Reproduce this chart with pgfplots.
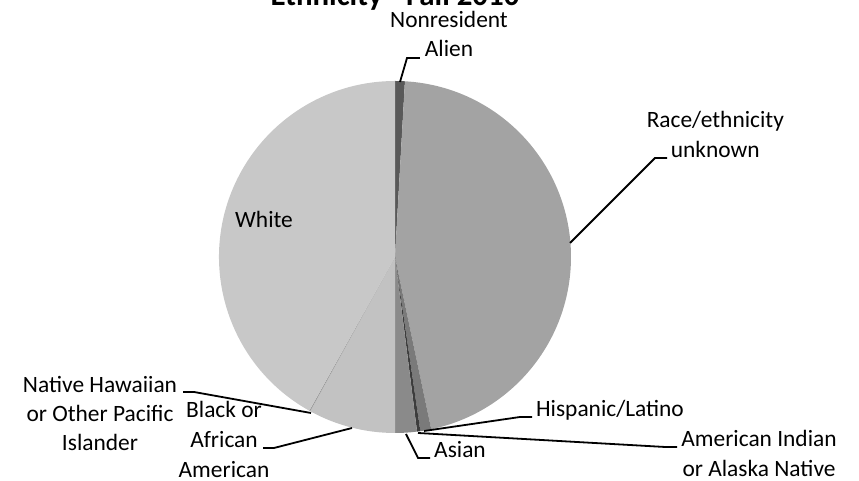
\documentclass[border=0pt]{standalone}
\usepackage{fontspec}
\setmainfont{Carlito}
\usepackage{pgfplots}
\usepackage{pgfplotstable}
\pgfplotsset{compat=1.18}
\definecolor{c1}{HTML}{595959}
\definecolor{c2}{HTML}{A3A3A3}
\definecolor{c3}{HTML}{7A7A7A}
\definecolor{c4}{HTML}{3C3C3C}
\definecolor{c5}{HTML}{8A8A8A}
\definecolor{c6}{HTML}{C2C2C2}
\definecolor{c7}{HTML}{9A9A9A}
\definecolor{c8}{HTML}{C8C8C8}
\pgfplotstableread{
share color
0.9  c1
45.8 c2
1.0  c3
0.3  c4
2.0  c5
8.0  c6
0.1  c7
41.9 c8
}\piedata
\newcommand\lab{\fontsize{23.5}{29}\selectfont}
\begin{document}
\begin{tikzpicture}
\begin{axis}[
  x=176bp, y=176bp,
  xmin=-2.2443, xmax=2.6364, ymin=-1.2727, ymax=1.4602,
  hide axis, clip=false,
]
\def\cum{0}
\pgfplotsforeachungrouped \i in {0,...,7}{%
  \pgfplotstablegetelem{\i}{share}\of\piedata \let\sh\pgfplotsretval
  \pgfplotstablegetelem{\i}{color}\of\piedata \let\col\pgfplotsretval
  \pgfmathsetmacro\aa{90-3.6*\cum}%
  \pgfmathsetmacro\bb{90-3.6*(\cum+\sh)}%
  \edef\temp{\noexpand\fill[\col] (axis cs:0,0) -- (axis cs:{cos(\aa)},{sin(\aa)}) arc[start angle=\aa, end angle=\bb, radius=176bp] -- cycle;}%
  \temp
  \pgfmathsetmacro\cum{\cum+\sh}%
}
% leader lines
\addplot[black, line width=1.8bp] coordinates {(0.0284,0.9943) (0.0682,1.1307) (0.1420,1.1307)};
\addplot[black, line width=1.8bp] coordinates {(0.9943,0.0795) (1.4773,0.5625) (1.5455,0.5625)};
\addplot[black, line width=1.8bp] coordinates {(0.1648,-0.9886) (0.7102,-0.9091) (0.7784,-0.9091)};
\addplot[black, line width=1.8bp] coordinates {(0.1307,-1.0) (1.5341,-1.0795) (1.6023,-1.0795)};
\addplot[black, line width=1.8bp] coordinates {(0.0625,-1.0057) (0.1307,-1.1420) (0.1989,-1.1420)};
\addplot[black, line width=1.8bp] coordinates {(-0.2443,-0.9716) (-0.6875,-1.0852) (-0.75,-1.0852)};
\addplot[black, line width=1.8bp] coordinates {(-1.2045,-0.7670) (-1.1420,-0.7670) (-0.4773,-0.8864)};
% labels
\node[anchor=base, font=\fontsize{31}{36}\selectfont\bfseries] at (axis cs:0,1.4261) {Ethnicity - Fall 2010};
\node[anchor=base, font=\lab] at (axis cs:0.3068,1.3011) {Nonresident};
\node[anchor=base, font=\lab] at (axis cs:0.3068,1.1364) {Alien};
\node[anchor=base, font=\lab] at (axis cs:1.82,0.7330) {Race/ethnicity};
\node[anchor=base, font=\lab] at (axis cs:1.82,0.5625) {unknown};
\node[anchor=base, font=\lab] at (axis cs:-0.7443,0.1648) {White};
\node[anchor=base, font=\lab] at (axis cs:1.2216,-0.9091) {Hispanic/Latino};
\node[anchor=base, font=\lab] at (axis cs:2.0682,-1.0795) {American Indian};
\node[anchor=base, font=\lab] at (axis cs:2.0682,-1.25) {or Alaska Native};
\node[anchor=base, font=\lab] at (axis cs:0.3693,-1.1420) {Asian};
\node[anchor=base, font=\lab] at (axis cs:-0.9716,-0.9148) {Black or};
\node[anchor=base, font=\lab] at (axis cs:-0.9716,-1.0852) {African};
\node[anchor=base, font=\lab] at (axis cs:-0.9716,-1.2557) {American};
\node[anchor=base, font=\lab] at (axis cs:-1.6761,-0.7727) {Native Hawaiian};
\node[anchor=base, font=\lab] at (axis cs:-1.6761,-0.9375) {or Other Pacific};
\node[anchor=base, font=\lab] at (axis cs:-1.6761,-1.1023) {Islander};
\end{axis}
\pgfresetboundingbox
\path[use as bounding box] (current axis.south west) rectangle (current axis.north east);
\end{tikzpicture}
\end{document}
